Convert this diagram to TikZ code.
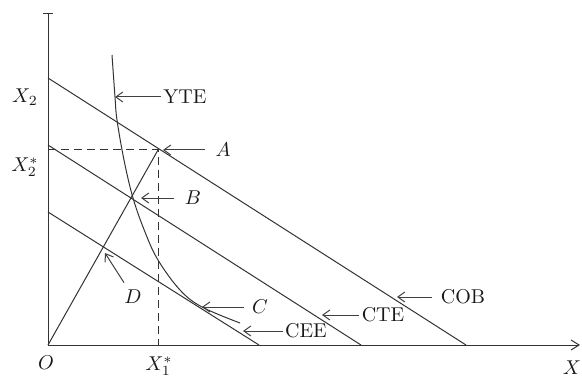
\documentclass[tikz,border=0pt]{standalone}
\usepackage{amsmath}
\usetikzlibrary{arrows.meta, positioning}

\begin{document}
\begin{tikzpicture}[x=0.5pt, y=-0.5pt, line width=0.5pt,
	pointer/.style={-{Straight Barb[length=3.5pt,width=5pt]}, draw=black!75},
	budget/.style={draw=black!80},
	lbl/.style={inner sep=1pt, text=black!90}]
	\useasboundingbox (0,0) rectangle (582,379);

	% points of the figure
	\coordinate (O) at (48,345);
	\coordinate (ytop) at (48,13);
	\coordinate (xend) at (580,345);
	\coordinate (cob1) at (48,78);
	\coordinate (cob2) at (466,345);
	\coordinate (cte1) at (48,145);
	\coordinate (cte2) at (361,345);
	\coordinate (cee1) at (48,212);
	\coordinate (cee2) at (259,345);
	\coordinate (A) at (158,150);
	\coordinate (x2s) at (48,150);
	\coordinate (x1s) at (158,345);

	% axes
	\draw[budget, {Bar[width=5pt]}-] (ytop) -- (O);
	\draw[budget, -{Straight Barb[length=4pt,width=5pt]}] (O) -- (xend);

	% budget lines and ray
	\draw[budget] (cob1) -- (cob2);
	\draw[budget] (cte1) -- (cte2);
	\draw[budget] (cee1) -- (cee2);
	\draw[budget] (O) -- (A);
	\draw[budget, dash pattern=on 4pt off 2.5pt] (x2s) -- (A) -- (x1s);

	% YTE curve
	\draw[budget] plot[smooth, tension=0.6] coordinates
		{(112,55) (115,97) (117,120) (124,160) (133,198) (145,232)
		 (158,260) (180,290) (202,307) (240,323)};

	% labels
	\node[lbl] (x2) at (25,97) {$X_2$};
	\node[lbl] (x2star) at (25,167) {$X_2^*$};
	\node[lbl] (o) at (46,363) {$O$};
	\node[lbl] (x1star) at (159,366) {$X_1^*$};
	\node[lbl] (x) at (572,368) {$X$};

	\node[lbl] (yte) at (185,97) {YTE};
	\node[lbl] (a) at (223,150) {$A$};
	\node[lbl] (b) at (193,198) {$B$};
	\node[lbl] (c) at (260,307) {$C$};
	\node[lbl] (cee) at (306,331) {CEE};
	\node[lbl] (cte) at (383,315) {CTE};
	\node[lbl] (cob) at (463,297) {COB};
	\node[lbl] (d) at (133,297) {$D$};

	\coordinate (yteP) at (115,97);
	\coordinate (aP) at (163,150);
	\coordinate (bP) at (141,198);
	\coordinate (cP) at (202,307);
	\coordinate (ceeP) at (243,331);
	\coordinate (cteP) at (322,315);
	\coordinate (cobP) at (397,297);
	\coordinate (dP) at (105,253);

	\draw[pointer] (yte.west) -- (yteP);
	\draw[pointer] (a.west) ++(-8,0) -- (aP);
	\draw[pointer] (b.west) ++(-8,0) -- (bP);
	\draw[pointer] (c.west) ++(-6,0) -- (cP);
	\draw[pointer] (cee.west) -- (ceeP);
	\draw[pointer] (cte.west) -- (cteP);
	\draw[pointer] (cob.west) ++(-6,0) -- (cobP);
	\draw[pointer] (d.north) ++(-9,-5) -- (dP);
\end{tikzpicture}
\end{document}
